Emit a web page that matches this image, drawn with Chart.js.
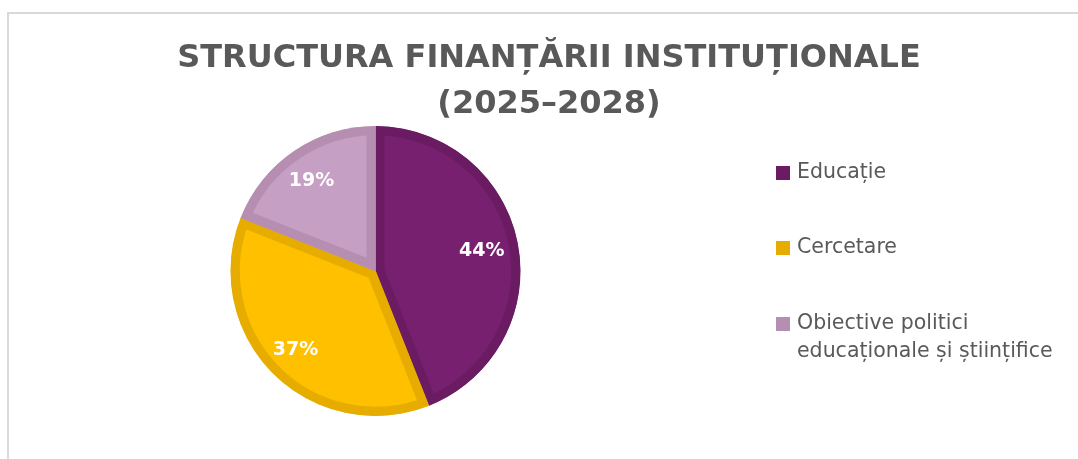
<!DOCTYPE html>
<html><head><meta charset="utf-8">
<script src="https://cdn.jsdelivr.net/npm/chart.js@4.4.1/dist/chart.umd.min.js"></script>
<style>html,body{margin:0;padding:0;background:#fff;overflow:hidden}
#wrap{position:relative;width:1078px;height:459px}
canvas{display:block}
</style></head><body><div id="wrap"><canvas id="c" width="1078" height="459"></canvas></div>
<script>
const titleLines = ['STRUCTURA FINANȚĂRII INSTITUȚIONALE', '(2025–2028)'];
const categories = ['Educație', 'Cercetare', 'Obiective politici educaționale și științifice'];
const legendLines = [['Educație'], ['Cercetare'], ['Obiective politici', 'educaționale și științifice']];
const shares = [44, 37, 19];
const fillColors = ['#782070', '#FFC000', '#C59FC4'];
const edgeColors = ['#6A1B62', '#E6AD00', '#B58EB2'];

const TEXT = '#595959';

const framePlugin = {
  id: 'frame',
  beforeDraw(chart) {
    const ctx = chart.ctx;
    ctx.save();
    ctx.fillStyle = '#fff';
    ctx.fillRect(0, 0, chart.width, chart.height);
    ctx.fillStyle = '#D9D9D9';
    ctx.fillRect(7, 12, 2, chart.height - 12);
    ctx.fillRect(7, 12, chart.width - 7, 2);
    ctx.restore();
  }
};

const titlePlugin = {
  id: 'titleText',
  afterDraw(chart) {
    const ctx = chart.ctx;
    ctx.save();
    ctx.fillStyle = TEXT;
    ctx.font = 'bold 32px "DejaVu Sans"';
    ctx.textAlign = 'center';
    ctx.textBaseline = 'alphabetic';
    ctx.fillText(titleLines[0], 549, 67);
    ctx.fillText(titleLines[1], 549, 113);
    ctx.restore();
  }
};

const legendPlugin = {
  id: 'sideLegend',
  afterDraw(chart) {
    const ctx = chart.ctx;
    const ds = chart.data.datasets[0];
    const centers = [173, 248, 324];
    ctx.save();
    ctx.font = '20.5px "DejaVu Sans"';
    ctx.textBaseline = 'middle';
    ctx.textAlign = 'left';
    legendLines.forEach((lines, i) => {
      const cy = centers[i];
      ctx.fillStyle = ds.borderColor[i];
      ctx.fillRect(776, cy - 7, 14, 14);
      ctx.fillStyle = TEXT;
      lines.forEach((t, j) => ctx.fillText(t, 797, cy + j * 28));
    });
    ctx.restore();
  }
};

const labelPlugin = {
  id: 'sliceLabels',
  afterDatasetsDraw(chart) {
    const ctx = chart.ctx;
    const meta = chart.getDatasetMeta(0);
    ctx.save();
    ctx.fillStyle = '#FFFFFF';
    ctx.font = 'bold 19px "DejaVu Sans"';
    ctx.textAlign = 'center';
    ctx.textBaseline = 'middle';
    meta.data.forEach((arc, i) => {
      const p = arc.getProps(['x', 'y', 'startAngle', 'endAngle', 'outerRadius'], true);
      const mid = (p.startAngle + p.endAngle) / 2;
      const r = p.outerRadius * 0.76;
      ctx.fillText(shares[i] + '%', p.x + Math.cos(mid) * r - 2, p.y + Math.sin(mid) * r + 1);
    });
    ctx.restore();
  }
};

new Chart(document.getElementById('c'), {
  type: 'pie',
  data: {
    labels: categories,
    datasets: [{
      data: shares,
      backgroundColor: fillColors,
      borderColor: edgeColors,
      borderWidth: 9,
      borderAlign: 'inner',
      borderJoinStyle: 'miter'
    }]
  },
  options: {
    responsive: false,
    devicePixelRatio: 1,
    animation: false,
    events: [],
    radius: 145,
    layout: { padding: { left: 230, right: 557, top: 126, bottom: 43 } },
    plugins: {
      legend: { display: false },
      title: { display: false },
      tooltip: { enabled: false }
    }
  },
  plugins: [framePlugin, titlePlugin, legendPlugin, labelPlugin]
});
</script></body></html>
